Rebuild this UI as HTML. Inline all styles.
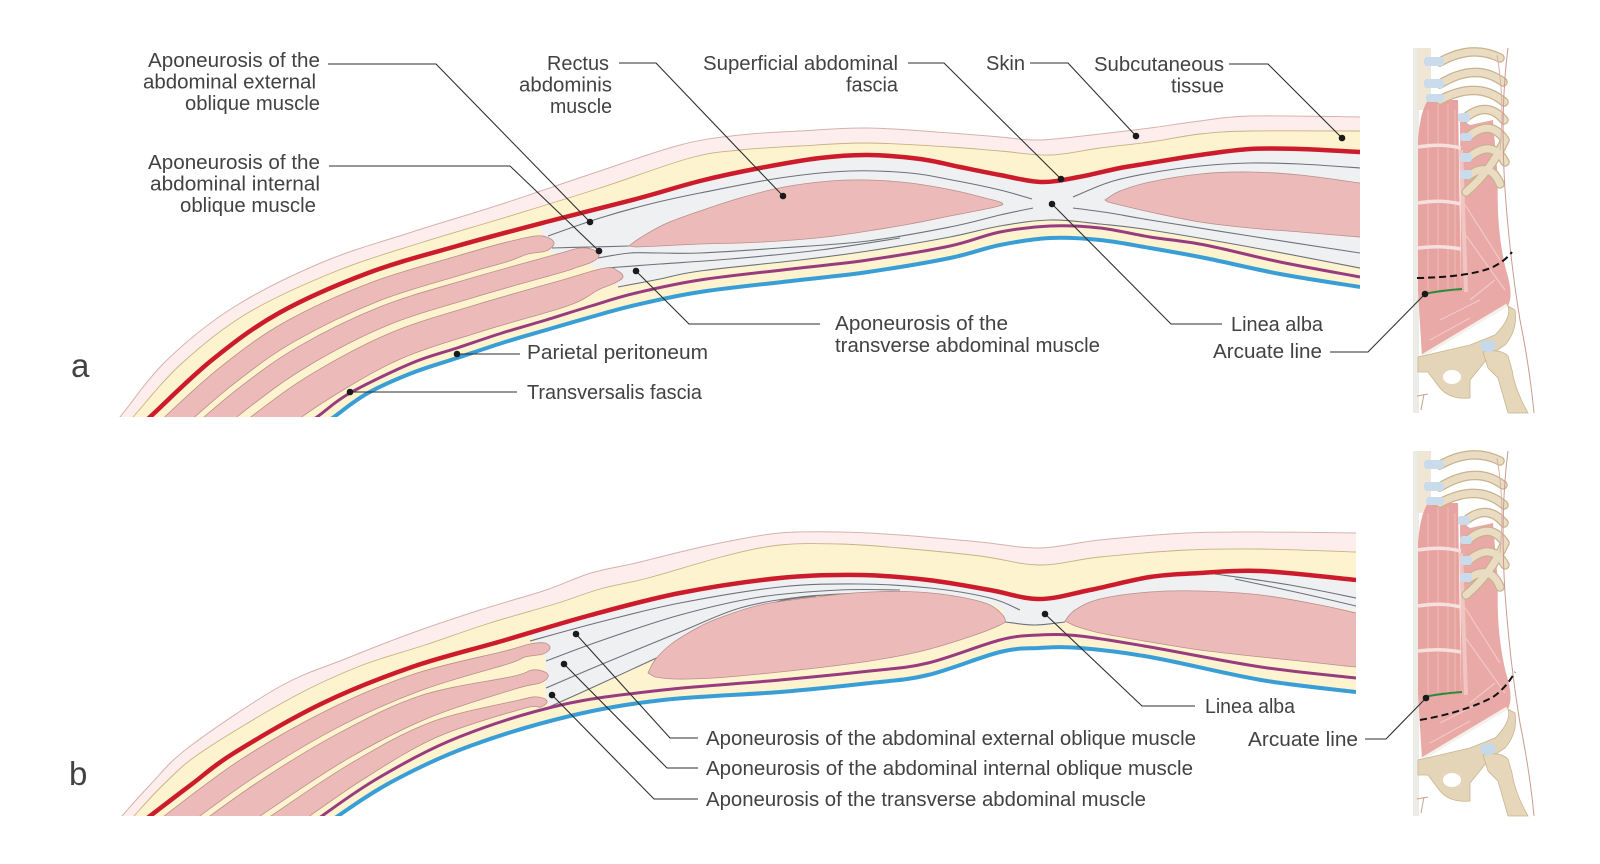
<!DOCTYPE html>
<html><head><meta charset="utf-8"><style>
html,body{margin:0;padding:0;background:#fff;}
svg{display:block;}
text{font-family:"Liberation Sans",Arial,sans-serif;font-size:20px;fill:#424242;}
.ln{fill:none;stroke:#6d7278;stroke-width:1.1;}
.mu{fill:#ecbab9;stroke:#b98f8c;stroke-width:0.8;}
.cn{fill:none;stroke:#2e2e2e;stroke-width:1.1;}
.dt{fill:#1a1a1a;}
</style></head><body>
<svg width="1600" height="864" viewBox="0 0 1600 864" xmlns="http://www.w3.org/2000/svg">
<defs>
<clipPath id="ca"><rect x="0" y="0" width="1360" height="417"/></clipPath>
<clipPath id="cb"><rect x="0" y="420" width="1356" height="396"/></clipPath>
</defs>
<rect width="1600" height="864" fill="#fff"/>

<!-- ================= PANEL A ================= -->
<g clip-path="url(#ca)">
<path class="s" fill="#fdeeed" d="M90,453 L120,417 L167,360 L234,307 L323,262 L412,232 L502,204 L591,174 L680,145 L740,135 L800,131 L868,128 L950,133 L1000,137 L1040,140 L1100,134 L1150,128 L1200,121 L1250,116 L1360,117 L1360,117 L1400,117 L1400,117 L1400,480 L1400,480 L60,480 L60,480 Z"/>
<path class="s" fill="none" stroke="#d5b2ae" stroke-width="1" d="M90,453 L120,417 L167,360 L234,307 L323,262 L412,232 L502,204 L591,174 L680,145 L740,135 L800,131 L868,128 L950,133 L1000,137 L1040,140 L1100,134 L1150,128 L1200,121 L1250,116 L1360,117"/>
<path class="s" fill="#fdf3cf" d="M103,450 L133,417 L180,365 L246,314 L334,272 L420,243 L510,216 L600,188 L690,158 L740,150 L800,146 L868,143 L950,147 L1000,151 L1050,155 L1100,148 L1150,142 L1200,134 L1250,131 L1360,131 L1360,131 L1400,131 L1400,131 L1400,480 L1400,480 L70,480 L70,480 Z"/>
<path class="s" fill="none" stroke="#c8b283" stroke-width="0.9" d="M103,450 L133,417 L180,365 L246,314 L334,272 L420,243 L510,216 L600,188 L690,158 L740,150 L800,146 L868,143 L950,147 L1000,151 L1050,155 L1100,148 L1150,142 L1200,134 L1250,131 L1360,131"/>

<!-- aponeurosis region -->
<path class="s" fill="#eff0f2" d="M540,224 L591,210 L636,199 L700,181 L760,168 L820,158 L868,155 L920,159 L960,167 L1000,175 L1041,182 L1079,177 L1120,168 L1150,163 L1200,155 L1250,149 L1300,149 L1360,152 L1360,152 L1380,152 L1380,152 L1380,268 L1380,268 L1360,268 L1250,247 L1150,230 L1100,224 L1050,220 L1000,226 L950,237 L868,251 L800,260 L700,271 L660,279 L618,287 L618,287 L612,280 L600,270 L585,262 L565,256 L548,250 L543,238 Z"/>

<!-- sheath lines (under muscles) -->
<path class="s ln" stroke-width="1.4" d="M548,236 L600,218 L650,204 L700,193 L780,178 L850,171 L910,173 L952,180 L1000,190 L1032,199"/>
<path class="s ln" d="M552,248 L590,247 L629,246"/>
<path class="s ln" d="M598,258 L630,253 L660,253 L700,253 L780,248 L868,241 L950,227 L1000,215 L1033,208"/>
<path class="s ln" d="M606,268 L660,264 L730,259 L820,250 L900,238"/>
<path class="s ln" d="M618,287 L660,279 L700,271 L800,260 L868,251 L950,237 L1000,226 L1050,220 L1100,224 L1150,230 L1250,247 L1360,268"/>
<path class="s ln" d="M1073,197 L1110,182 L1150,173 L1200,166 L1250,163 L1300,164 L1360,168"/>
<path class="s ln" d="M1073,208 L1110,213 L1150,220 L1250,236 L1360,253"/>

<!-- lateral muscles -->
<path class="s mu" d="M156.7,424.3 L218.7,368.4 L284.3,322.4 L371.4,282.4 L459.6,255.3 L502.5,243.2 L535,236 L549,238 L554,244 L546,251 L528,254 L507.5,261.6 L464.8,273.9 L378.2,301.2 L294.9,341.2 L232.1,385.2 L170.1,438.9 Z"/>
<path class="s mu" d="M174.1,443.3 L236.1,390.2 L298.1,346.8 L380.2,306.8 L466.4,279.5 L554.6,254.8 L580,248 L594,250 L599,256 L592,262 L575,268 L559.4,273 L471.6,298.1 L387,325.6 L308.7,365.6 L249.5,407 L187.5,457.9 Z"/>
<path class="s mu" d="M192.9,463.7 L254.9,413.8 L312.9,373.2 L389.8,333.2 L473.6,305.5 L561.4,280.2 L605,268 L618,271 L623,277 L615,283 L598,290 L568.1,305.7 L480.9,331.6 L399.3,359.5 L327.8,399.5 L273.6,437.3 L211.6,484.2 Z"/>

<!-- rectus -->
<path class="s mu" d="M629,246 L640,238 L665,224 L700,211 L740,198 L784,187 L830,181 L868,180 L910,183 L952,190 L985,198 L1002,203 L995,207 L950,216 L910,224 L868,231 L826,237 L780,241 L740,243 L700,244 L660,246 L636,247 Z"/>
<path class="s mu" d="M1105,200 L1120,191 L1150,182 L1200,174 L1250,172 L1300,175 L1360,183 L1360,183 L1380,183 L1380,183 L1380,237 L1380,237 L1360,237 L1300,232 L1250,228 L1200,222 L1150,212 L1120,205 L1108,202 Z"/>

<!-- inside white -->
<path class="s" fill="#fff" d="M290,452 L334,417 L368,393 L412,373 L457,358 L502,343 L546,330 L591,317 L636,305 L700,292 L800,280 L868,272 L950,258 L1000,245 L1050,238 L1100,240 L1150,248 L1205,258 L1280,274 L1360,287 L1360,287 L1400,287 L1400,287 L1400,480 L1400,480 L280,480 Z"/>
<path class="s" fill="none" stroke="#983c7f" stroke-width="3" d="M270,452 L317,417 L350,393 L412,363 L457,348 L502,333 L546,320 L591,306 L636,293 L700,280 L800,268 L868,260 L950,246 L1000,232 L1050,226 L1100,228 L1150,237 L1205,245 L1280,262 L1360,277"/>
<path class="s" fill="none" stroke="#3a9ed6" stroke-width="4" d="M290,452 L334,417 L368,393 L412,373 L457,358 L502,343 L546,330 L591,317 L636,305 L700,292 L800,280 L868,272 L950,258 L1000,245 L1050,238 L1100,240 L1150,248 L1205,258 L1280,274 L1360,287"/>
<path class="s" fill="none" stroke="#cc1b2b" stroke-width="4.5" d="M110,454 L150,417 L212,360 L279,313 L368,273 L457,246 L546,222 L636,199 L700,181 L760,168 L820,158 L868,155 L920,159 L960,167 L1000,175 L1041,182 L1079,177 L1120,168 L1150,163 L1200,155 L1250,149 L1300,149 L1360,152"/>
</g>

<!-- ================= PANEL B ================= -->
<g clip-path="url(#cb)">
<path class="s" fill="#fdeeed" d="M92,852 L122,816 L150,785 L189,747 L279,687 L345,659 L412,633 L480,610 L546,590 L591,573 L636,563 L680,552 L725,542 L780,533 L840,532 L900,535 L980,542 L1039,548 L1100,540 L1187,533 L1260,532 L1356,533 L1356,533 L1400,533 L1400,533 L1400,880 L1400,880 L60,880 L60,880 Z"/>
<path class="s" fill="none" stroke="#d5b2ae" stroke-width="1" d="M92,852 L122,816 L150,785 L189,747 L279,687 L345,659 L412,633 L480,610 L546,590 L591,573 L636,563 L680,552 L725,542 L780,533 L840,532 L900,535 L980,542 L1039,548 L1100,540 L1187,533 L1260,532 L1356,533"/>
<path class="s" fill="#fdf3cf" d="M106,848 L134,816 L165,783 L203,751 L293,697 L360,666 L425,645 L490,623 L558,603 L600,589 L648,578 L725,556 L780,545 L840,544 L900,548 L980,556 L1039,565 L1100,557 L1187,550 L1260,549 L1356,552 L1356,552 L1400,552 L1400,552 L1400,880 L1400,880 L70,880 L70,880 Z"/>
<path class="s" fill="none" stroke="#c8b283" stroke-width="0.9" d="M106,848 L134,816 L165,783 L203,751 L293,697 L360,666 L425,645 L490,623 L558,603 L600,589 L648,578 L725,556 L780,545 L840,544 L900,548 L980,556 L1039,565 L1100,557 L1187,550 L1260,549 L1356,552"/>

<path class="s" fill="#eff0f2" d="M528,634 L591,615 L680,593 L780,578 L860,575 L928,580 L990,590 L1039,599 L1090,590 L1150,577 L1200,573 L1261,571 L1356,580 L1356,580 L1380,580 L1380,580 L1380,614 L1380,614 L1320,606 L1261,596 L1200,592 L1150,593 L1110,598 L1080,609 L1065,621 L1040,626 L1005,621 L1000,608 L960,597 L918,592 L860,593 L816,596 L780,601 L740,616 L700,638 L650,661 L600,684 L549,707 L549,707 L546,695 L545,680 L546,665 L543,650 Z"/>

<!-- lines under muscles -->
<path class="s ln" d="M530,641 L600,622 L680,603 L780,587 L860,584 L930,588 L990,598 L1020,610"/>
<path class="s ln" d="M546,661 L600,641 L680,615 L760,597 L840,590 L900,590"/>
<path class="s ln" d="M546,688 L600,665 L680,632 L740,608 L800,597 L860,593"/>
<path class="s ln" d="M549,707 L600,684 L650,661 L700,638 L740,616 L780,601 L816,596"/>
<path class="s ln" d="M1215,574 L1290,585 L1356,598"/>
<path class="s ln" d="M1235,579 L1300,593 L1356,606"/>
<path class="s ln" d="M1005,622 L1035,625 L1065,622"/>

<path class="s mu" d="M155.2,822.9 L239,760.7 L326.6,710.5 L414.4,673.9 L505,651 L530,644 L545,643 L550,648 L543,654 L525,657 L508.6,663.7 L420.2,690.7 L335.4,728.7 L251,779.4 L167.9,839.8 Z"/>
<path class="s mu" d="M171.3,844.4 L254.4,784.5 L337.8,733.7 L421.8,695.3 L512.3,676.5 L532,670 L545,672 L548,677 L540,683 L515,689 L429.5,717.5 L349.4,757.8 L270.3,809.1 L188,866.7 Z"/>
<path class="s mu" d="M191.5,871.3 L273.6,814.2 L351.8,762.8 L431.1,722.1 L519.2,700 L538,697 L547,701 L541,707 L521.8,709 L436.4,737.4 L360.6,781 L285.7,832.9 L204.1,888.2 Z"/>

<path class="s mu" d="M648,673 L655,660 L670,645 L690,632 L714,620 L760,605 L816,597 L870,592 L918,592 L960,597 L990,605 L1005,619 L998,626 L960,640 L918,652 L870,661 L816,668 L760,674 L714,678 L675,679 L655,677 Z"/>
<path class="s mu" d="M1065,621 L1075,610 L1100,599 L1150,592 L1200,591 L1261,595 L1320,605 L1356,613 L1356,613 L1380,613 L1380,613 L1380,667 L1380,667 L1356,667 L1300,661 L1261,657 L1200,650 L1150,642 L1100,633 L1075,626 Z"/>

<path class="s" fill="#fff" d="M292,852 L338,816 L395,780 L470,746 L570,716 L663,700 L780,692 L870,683 L928,675 L1000,652 L1039,648 L1080,648 L1150,657 L1261,680 L1356,692 L1356,692 L1400,692 L1400,692 L1400,880 L1400,880 L280,880 Z"/>
<path class="s" fill="none" stroke="#983c7f" stroke-width="3" d="M278,850 L322,816 L380,777 L459,737 L561,705 L663,690 L780,680 L870,671 L928,663 L1000,640 L1039,635 L1080,636 L1150,647 L1261,667 L1356,678"/>
<path class="s" fill="none" stroke="#3a9ed6" stroke-width="4" d="M292,852 L338,816 L395,780 L470,746 L570,716 L663,700 L780,692 L870,683 L928,675 L1000,652 L1039,648 L1080,648 L1150,657 L1261,680 L1356,692"/>
<path class="s" fill="none" stroke="#cc1b2b" stroke-width="4.5" d="M112,846 L150,816 L192,784 L234,753 L323,703 L412,667 L502,641 L591,615 L680,593 L780,578 L860,575 L928,580 L990,590 L1039,599 L1090,590 L1150,577 L1200,573 L1261,571 L1356,580"/>
</g>

<!-- ================= THUMBNAIL ================= -->
<g id="th">
<rect x="1413" y="48" width="6" height="365" fill="#ecebe6"/>
<rect x="1417" y="48" width="14" height="62" fill="#efe6d6"/>
<path d="M1460,118 L1470,125 L1493,120 L1498,180 Q1496,230 1506,270 Q1514,295 1508,306 L1422,357 L1418,292 L1461,292 Z" fill="#e9a9a6"/>
<path d="M1462,200 L1500,260 M1462,230 L1505,290 M1470,300 L1495,280 M1440,320 L1480,300 M1430,340 L1470,318" stroke="#f3c9c5" stroke-width="1.2" fill="none"/>
<path d="M1461,150 L1466,292" stroke="#f1c6c2" stroke-width="4" fill="none"/>
<path d="M1428,100 L1458,100 L1461,292 L1418,292 L1418,140 Q1420,112 1428,100 Z" fill="#e7a3a0"/>
<path d="M1428,110 L1428,290 M1438,104 L1438,290 M1448,104 L1448,290 M1455,110 L1455,290" stroke="#efbdba" stroke-width="1" fill="none"/>
<path d="M1418,147 Q1440,143 1461,148 M1418,203 Q1440,199 1461,204 M1418,248 Q1440,245 1461,249" stroke="#f7dfdd" stroke-width="3.5" fill="none"/>
<g fill="none" stroke-linecap="round">
<path d="M1440,62 Q1472,44 1500,58 M1440,84 Q1476,62 1503,82 M1440,100 Q1478,80 1504,102 M1465,118 Q1487,100 1504,120 M1468,137 Q1490,118 1505,140 M1468,158 Q1492,138 1505,162 M1468,176 Q1490,160 1500,184 M1466,192 Q1490,172 1505,140" stroke="#c8b38c" stroke-width="9.5"/>
<path d="M1440,62 Q1472,44 1500,58 M1440,84 Q1476,62 1503,82 M1440,100 Q1478,80 1504,102 M1465,118 Q1487,100 1504,120 M1468,137 Q1490,118 1505,140 M1468,158 Q1492,138 1505,162 M1468,176 Q1490,160 1500,184 M1466,192 Q1490,172 1505,140" stroke="#eadcc2" stroke-width="7"/>
</g>
<g fill="#cadcec">
<rect x="1424" y="57" width="20" height="9" rx="3"/>
<rect x="1424" y="79" width="20" height="9" rx="3"/>
<rect x="1426" y="94" width="18" height="8" rx="3"/>
<rect x="1458" y="113" width="12" height="9" rx="3"/>
<rect x="1460" y="133" width="12" height="8" rx="3"/>
<rect x="1460" y="153" width="12" height="9" rx="3"/>
<rect x="1460" y="170" width="12" height="9" rx="3"/>
</g>
<path d="M1420,357 L1507,305" stroke="#f4f0ea" stroke-width="3"/>
<path d="M1418,357 L1470,345 L1495,335 Q1512,318 1508,306 L1515,310 Q1518,330 1505,345 L1490,355 Q1480,368 1470,380 L1470,398 Q1450,400 1440,388 L1428,372 L1418,372 Z" fill="#e4d5b8" stroke="#c9b58f" stroke-width="0.8"/>
<ellipse cx="1452" cy="377" rx="9" ry="7" fill="#fff"/>
<path d="M1483,352 Q1500,348 1508,356 L1512,370 Q1515,390 1528,413 L1508,413 Q1502,392 1498,378 L1488,368 Z" fill="#e6d7ba" stroke="#c9b58f" stroke-width="0.8"/>
<ellipse cx="1488" cy="346" rx="8" ry="6" fill="#c6d9ea"/>
<path d="M1508,48 Q1500,110 1505,190 Q1510,260 1520,320 Q1530,370 1534,413" stroke="#c99b92" stroke-width="1" fill="none"/>
<path d="M1497,55 Q1505,100 1500,150" stroke="#d8b2aa" stroke-width="1" fill="none"/>
<path d="M1417,396 L1428,394 M1424,394 L1421,410" stroke="#c4a88c" stroke-width="1" fill="none"/>
<path d="M1423,294 Q1445,290 1462,289" stroke="#2c8a3c" stroke-width="2" fill="none"/>
</g>
<use href="#th" transform="translate(0,403)"/>
<path d="M1417,278 Q1470,277 1493,267 Q1505,261 1512,252" stroke="#111" stroke-width="2" stroke-dasharray="7 4" fill="none"/>
<path d="M1420,720 Q1465,712 1493,697 Q1506,688 1515,672" stroke="#111" stroke-width="2" stroke-dasharray="7 4" fill="none"/>

<!-- ================= CONNECTORS ================= -->
<path class="cn" d="M328,64 L436,64 L590,222"/>
<path class="cn" d="M329,166 L510,166 L599,251"/>
<path class="cn" d="M619,63 L656,63 L783,196"/>
<path class="cn" d="M908,63 L944,63 L1061,179"/>
<path class="cn" d="M1030,63 L1068,63 L1136,136"/>
<path class="cn" d="M1229,64 L1268,64 L1342,138"/>
<path class="cn" d="M636,271 L689,324 L820,324"/>
<path class="cn" d="M1052,204 L1171,324 L1222,324"/>
<path class="cn" d="M1330,352 L1368,352 L1425,294"/>
<path class="cn" d="M457,354 L520,354"/>
<path class="cn" d="M350,392 L517,392"/>
<path class="cn" d="M1045,614 L1142,706 L1195,706"/>
<path class="cn" d="M1365,739 L1386,739 L1426,698"/>
<path class="cn" d="M576,634 L670,738 L698,738"/>
<path class="cn" d="M564,664 L667,768 L698,768"/>
<path class="cn" d="M552,695 L654,799 L698,799"/>
<g class="dt">
<circle cx="590" cy="222" r="3.3"/><circle cx="599" cy="251" r="3.3"/><circle cx="783" cy="196" r="3.3"/>
<circle cx="1061" cy="179" r="3.3"/><circle cx="1136" cy="136" r="3.3"/><circle cx="1342" cy="138" r="3.3"/>
<circle cx="636" cy="271" r="3.3"/><circle cx="1052" cy="204" r="3.3"/><circle cx="1425" cy="294" r="3.3"/>
<circle cx="457" cy="354" r="3.3"/><circle cx="350" cy="392" r="3.3"/>
<circle cx="1045" cy="614" r="3.3"/><circle cx="1426" cy="698" r="3.3"/>
<circle cx="576" cy="634" r="3.3"/><circle cx="564" cy="664" r="3.3"/><circle cx="552" cy="695" r="3.3"/>
</g>

<!-- ================= LABELS ================= -->
<text x="320" y="67" text-anchor="end" textLength="172" lengthAdjust="spacingAndGlyphs">Aponeurosis of the</text>
<text x="316" y="88.5" text-anchor="end" textLength="173" lengthAdjust="spacingAndGlyphs">abdominal external</text>
<text x="320" y="110" text-anchor="end" textLength="135" lengthAdjust="spacingAndGlyphs">oblique muscle</text>
<text x="320" y="169" text-anchor="end" textLength="172" lengthAdjust="spacingAndGlyphs">Aponeurosis of the</text>
<text x="320" y="190.5" text-anchor="end" textLength="170" lengthAdjust="spacingAndGlyphs">abdominal internal</text>
<text x="316" y="212" text-anchor="end" textLength="136" lengthAdjust="spacingAndGlyphs">oblique muscle</text>
<text x="609" y="70" text-anchor="end" textLength="62" lengthAdjust="spacingAndGlyphs">Rectus</text>
<text x="612" y="91.5" text-anchor="end" textLength="93" lengthAdjust="spacingAndGlyphs">abdominis</text>
<text x="612" y="113" text-anchor="end" textLength="62" lengthAdjust="spacingAndGlyphs">muscle</text>
<text x="898" y="70" text-anchor="end" textLength="195" lengthAdjust="spacingAndGlyphs">Superficial abdominal</text>
<text x="898" y="91.5" text-anchor="end" textLength="52" lengthAdjust="spacingAndGlyphs">fascia</text>
<text x="986" y="70" textLength="39" lengthAdjust="spacingAndGlyphs">Skin</text>
<text x="1224" y="71" text-anchor="end" textLength="130" lengthAdjust="spacingAndGlyphs">Subcutaneous</text>
<text x="1224" y="92.5" text-anchor="end" textLength="53" lengthAdjust="spacingAndGlyphs">tissue</text>
<text x="835" y="330" textLength="173" lengthAdjust="spacingAndGlyphs">Aponeurosis of the</text>
<text x="835" y="352" textLength="265" lengthAdjust="spacingAndGlyphs">transverse abdominal muscle</text>
<text x="1231" y="331" textLength="92" lengthAdjust="spacingAndGlyphs">Linea alba</text>
<text x="1322" y="358" text-anchor="end" textLength="109" lengthAdjust="spacingAndGlyphs">Arcuate line</text>
<text x="527" y="359" textLength="181" lengthAdjust="spacingAndGlyphs">Parietal peritoneum</text>
<text x="527" y="399" textLength="175" lengthAdjust="spacingAndGlyphs">Transversalis fascia</text>
<text x="71" y="377" style="font-size:33px">a</text>

<text x="1205" y="713" textLength="90" lengthAdjust="spacingAndGlyphs">Linea alba</text>
<text x="1358" y="746" text-anchor="end" textLength="110" lengthAdjust="spacingAndGlyphs">Arcuate line</text>
<text x="706" y="745" textLength="490" lengthAdjust="spacingAndGlyphs">Aponeurosis of the abdominal external oblique muscle</text>
<text x="706" y="775" textLength="487" lengthAdjust="spacingAndGlyphs">Aponeurosis of the abdominal internal oblique muscle</text>
<text x="706" y="806" textLength="440" lengthAdjust="spacingAndGlyphs">Aponeurosis of the transverse abdominal muscle</text>
<text x="69" y="785" style="font-size:33px">b</text>
</svg>
<script>
(function(){
var ps=document.querySelectorAll('path.s');
for(var k=0;k<ps.length;k++){
 var p=ps[k],d=p.getAttribute('d'),closed=/[zZ]\s*$/.test(d);
 var n=d.match(/-?\d+(\.\d+)?/g).map(Number),pts=[];
 for(var i=0;i+1<n.length;i+=2)pts.push([n[i],n[i+1]]);
 var runs=[[pts[0]]];
 for(var i=1;i<pts.length;i++){var a=pts[i-1],b=pts[i];
  if(a[0]==b[0]&&a[1]==b[1])runs.push([b]);else runs[runs.length-1].push(b);}
 var o='M'+pts[0][0]+','+pts[0][1];
 for(var r=0;r<runs.length;r++){var R=runs[r];
  for(var i=0;i<R.length-1;i++){
   var p0=R[i>0?i-1:i],p1=R[i],p2=R[i+1],p3=R[i+2<R.length?i+2:i+1];
   o+=' C'+(p1[0]+(p2[0]-p0[0])/6).toFixed(1)+','+(p1[1]+(p2[1]-p0[1])/6).toFixed(1)+' '+(p2[0]-(p3[0]-p1[0])/6).toFixed(1)+','+(p2[1]-(p3[1]-p1[1])/6).toFixed(1)+' '+p2[0]+','+p2[1];
  }}
 if(closed)o+=' Z';
 p.setAttribute('d',o);
}})();
</script>
</body></html>
